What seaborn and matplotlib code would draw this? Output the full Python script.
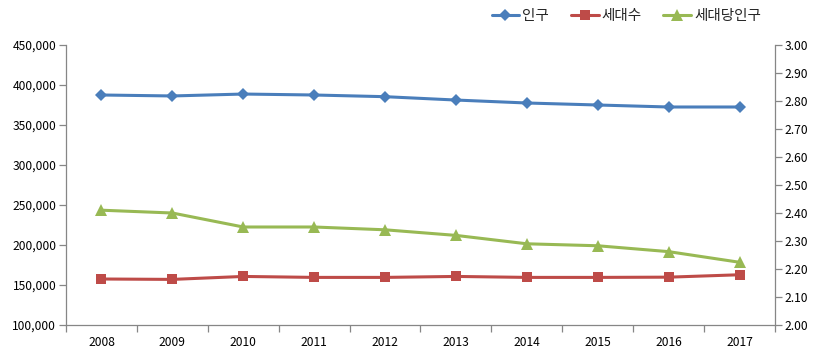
import matplotlib
matplotlib.use("Agg")
import matplotlib.pyplot as plt
import seaborn as sns
import numpy as np
import pandas as pd
from matplotlib.ticker import FuncFormatter, FixedLocator

years = ["2008", "2009", "2010", "2011", "2012", "2013", "2014", "2015", "2016", "2017"]
population = [387500, 386300, 388700, 387500, 385400, 381200, 377500, 375000, 372500, 372500]
households = [157500, 157000, 160700, 159500, 159500, 160700, 159500, 159500, 159800, 162800]
per_household = [2.41, 2.40, 2.35, 2.35, 2.34, 2.32, 2.29, 2.283, 2.262, 2.224]
series_names = ["인구", "세대수", "세대당인구"]

sns.set_theme(style="white")
plt.rcParams["font.family"] = ["Noto Sans CJK KR", "DejaVu Sans"]

df = pd.DataFrame({"year": years, "pos": np.arange(len(years)),
                   "pop": population, "hh": households, "ph": per_household})

blue = "#4A7EBB"
red = "#BE4B48"
green = "#98B954"
axis_c = "#868686"
text_c = "#000000"

fig = plt.figure(figsize=(8.2, 3.57), dpi=100)
ax = fig.add_axes([66/820, 1-325/357, (775-66)/820, (325-45)/357])
ax2 = ax.twinx()

sns.lineplot(data=df, x="pos", y="pop", ax=ax, color=blue, marker="D", markersize=6.5,
             markeredgewidth=0, linewidth=2.2, label=series_names[0], legend=False)
sns.lineplot(data=df, x="pos", y="hh", ax=ax, color=red, marker="s", markersize=7,
             markeredgewidth=0, linewidth=2.2, label=series_names[1], legend=False)
sns.lineplot(data=df, x="pos", y="ph", ax=ax2, color=green, marker="^", markersize=8,
             markeredgewidth=0, linewidth=2.2, label=series_names[2], legend=False)

ax.set_xlim(-0.5, len(years) - 0.5)
ax.set_ylim(100000, 450000)
ax2.set_ylim(2.0, 3.0)
ax.set_yticks(np.arange(100000, 450001, 50000))
ax2.set_yticks(np.arange(2.0, 3.001, 0.1))
ax.yaxis.set_major_formatter(FuncFormatter(lambda v, p: f"{int(v):,}"))
ax2.yaxis.set_major_formatter(FuncFormatter(lambda v, p: f"{v:.2f}"))

ax.set_xticks(df["pos"])
ax.set_xticklabels(years)
ax.xaxis.set_minor_locator(FixedLocator(np.arange(-0.5, len(years), 1.0)))
ax.set_xlabel("")
ax.set_ylabel("")
ax2.set_ylabel("")

for a in (ax, ax2):
    a.grid(False)
    a.spines["top"].set_visible(False)
    for s in a.spines.values():
        s.set_color(axis_c)
        s.set_linewidth(0.9)
ax.spines["right"].set_visible(False)
ax2.spines["left"].set_visible(False)
ax2.spines["bottom"].set_visible(False)

ax.tick_params(axis="y", which="major", direction="out", length=5, width=0.9,
               color=axis_c, labelsize=8.7, labelcolor=text_c, pad=2, left=True)
ax2.tick_params(axis="y", which="major", direction="out", length=5, width=0.9,
                color=axis_c, labelsize=8.7, labelcolor=text_c, pad=2, right=True)
ax.tick_params(axis="x", which="major", length=0, labelsize=8.7, labelcolor=text_c, pad=8)
ax.tick_params(axis="x", which="minor", direction="out", length=5, width=0.9,
               color=axis_c, bottom=True)

h1, l1 = ax.get_legend_handles_labels()
h2, l2 = ax2.get_legend_handles_labels()
leg = fig.legend(h1 + h2, l1 + l2, loc="center right", bbox_to_anchor=(761/820, 1-16/357),
                 ncol=3, frameon=False, fontsize=10.5, handlelength=1.9, handletextpad=0.2,
                 columnspacing=1.5, borderaxespad=0, borderpad=0)

fig.savefig("out.png", dpi=100)
